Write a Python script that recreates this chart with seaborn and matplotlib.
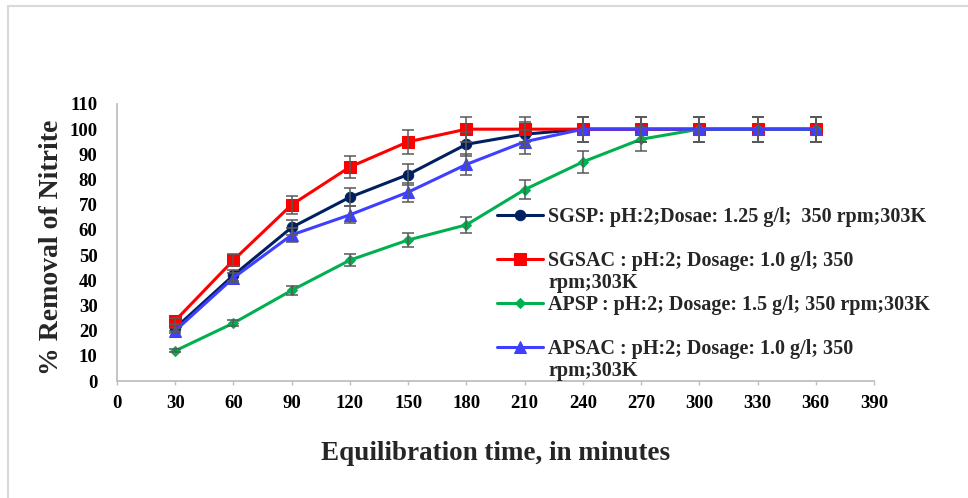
import pandas as pd
import seaborn as sns
import matplotlib.pyplot as plt
from matplotlib.patches import Rectangle

# data
time_min = [30, 60, 90, 120, 150, 180, 210, 240, 270, 300, 330, 360]
sgsp = [21, 42, 61, 73, 82, 94, 98, 100, 100, 100, 100, 100]
sgsac = [24, 48, 70, 85, 95, 100, 100, 100, 100, 100, 100, 100]
apsp = [12, 23, 36, 48, 56, 62, 76, 87, 96, 100, 100, 100]
apsac = [20, 41, 58, 66, 75, 86, 95, 100, 100, 100, 100, 100]
err_pct = 5  # percentage error bars

labels = [
    "SGSP: pH:2;Dosae: 1.25 g/l;  350 rpm;303K",
    "SGSAC : pH:2; Dosage: 1.0 g/l; 350\nrpm;303K",
    "APSP : pH:2; Dosage: 1.5 g/l; 350 rpm;303K",
    "APSAC : pH:2; Dosage: 1.0 g/l; 350\nrpm;303K",
]
colors = ['#002060', '#FF0000', '#00B050', '#3F3FFF']
markers = ['o', 's', 'D', '^']
msizes = [7.5, 8, 5, 8.5]

sns.set_theme(style='white')
plt.rcParams['font.family'] = ['Liberation Serif', 'DejaVu Serif']
plt.rcParams['font.weight'] = 'bold'

frames = []
for lab, vals in zip(labels, [sgsp, sgsac, apsp, apsac]):
    frames.append(pd.DataFrame({'time': time_min, 'removal': vals, 'series': lab}))
df = pd.concat(frames, ignore_index=True)

fig, ax = plt.subplots(figsize=(9.68, 4.98), dpi=100)
fig.subplots_adjust(left=0.1209, right=0.9029, bottom=0.2349, top=0.7912)

for lab, col, mk, ms in zip(labels, colors, markers, msizes):
    d = df[df['series'] == lab]
    sns.lineplot(data=d, x='time', y='removal', color=col, marker=mk,
                 markersize=ms, markeredgecolor=col, linewidth=2.2,
                 label=lab.split('\n')[0], ax=ax, zorder=3)
    ax.errorbar(d['time'], d['removal'], yerr=d['removal'] * err_pct / 100,
                fmt='none', ecolor='#595959', elinewidth=1.1, capsize=4,
                capthick=1.1, zorder=4)

ax.set_xlim(0, 390)
ax.set_ylim(0, 110)
ax.set_xticks(range(0, 391, 30))
ax.set_yticks(range(0, 111, 10))
ax.tick_params(axis='x', bottom=True, length=3, width=1, color='#BFBFBF',
               pad=7, labelsize=13.5, labelcolor='black')
ax.tick_params(axis='y', left=False, length=0, pad=14, labelsize=13.5,
               labelcolor='black')
sns.despine(ax=ax)
for s in ['left', 'bottom']:
    ax.spines[s].set_color('#BFBFBF')
    ax.spines[s].set_linewidth(1.3)

ax.set_xlabel('Equilibration time, in minutes', fontsize=19.5,
              fontweight='bold', va='center')
ax.xaxis.set_label_coords(0.5, (381 - 453) / 277)
ax.set_ylabel('% Removal of Nitrite', fontsize=20, fontweight='bold',
              va='center')
ax.yaxis.set_label_coords((51 - 117) / 757, (381 - 247) / 277)

leg = ax.legend(loc='upper left', bbox_to_anchor=((497 - 117) / 757, (381 - 207) / 277),
                frameon=False, prop={'size': 14.5, 'weight': 'bold'},
                handlelength=2.3, handletextpad=0.25, labelspacing=1.2,
                borderpad=0, borderaxespad=0)

# second lines of the wrapped legend labels
fig.canvas.draw()
W, H = fig.bbox.width, fig.bbox.height
for i, lab in enumerate(labels):
    if '\n' in lab:
        bb = leg.get_texts()[i].get_window_extent()
        fig.text(bb.x0 / W, (bb.y0 - 21.5) / H, lab.split('\n')[1],
                 fontsize=14.5, fontweight='bold', va='bottom', ha='left')

# light frame around the chart area
fig.patches.append(Rectangle((8 / 968, -0.2), 1.2, 1.2 - 6 / 498,
                             transform=fig.transFigure, fill=False,
                             edgecolor='#D9D9D9', linewidth=1.5))

fig.savefig('out.png', dpi=100)
